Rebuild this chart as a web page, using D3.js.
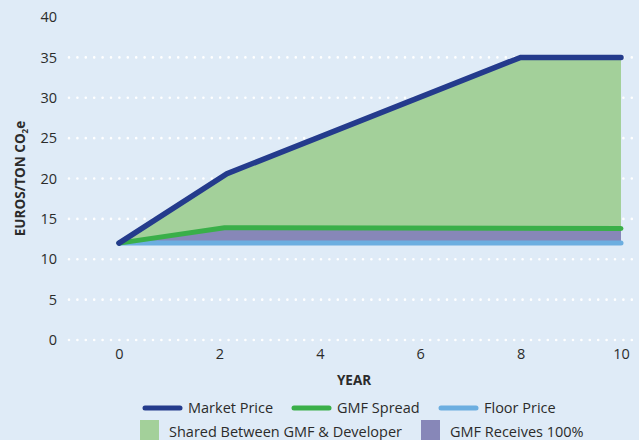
<!DOCTYPE html>
<html><head><meta charset="utf-8">
<script src="https://cdn.jsdelivr.net/npm/d3@7"></script>
<style>
html,body{margin:0;padding:0;background:#dfebf7;}
svg{display:block;font-family:"Open Sans","Noto Sans",sans-serif;}
</style></head>
<body><svg id="c" width="639" height="440"></svg>
<script>
const years = [0, 2.15, 8, 10];
const marketPrice = [12, 20.6, 35, 35];
const spreadYears = [0, 2.1, 10];
const gmfSpread = [12, 13.9, 13.8];
const floorYears = [0, 10];
const floorPrice = [12, 12];
const yTicks = [0, 5, 10, 15, 20, 25, 30, 35, 40];
const gridTicks = [0, 5, 10, 15, 20, 25, 30, 35];
const xTicks = [0, 2, 4, 6, 8, 10];
const lineLegend = ["Market Price", "GMF Spread", "Floor Price"];
const areaLegend = ["Shared Between GMF & Developer", "GMF Receives 100%"];

const C = {bg:"#dfebf7", market:"#243b8c", spread:"#3aaf49", floor:"#6caee0", shared:"#a3d09a", gmf:"#8787b8", text:"#2b2b2b"};

const svg = d3.select("#c");
const x = d3.scaleLinear().domain([0,10]).range([119,621]);
const y = d3.scaleLinear().domain([0,40]).range([340,17]);

// grid
svg.append("g").selectAll("line").data(gridTicks).join("line")
  .attr("x1",69).attr("x2",639).attr("y1",d=>y(d)).attr("y2",d=>y(d))
  .attr("stroke","#fff").attr("stroke-width",2.6).attr("stroke-linecap","round")
  .attr("stroke-dasharray","0 8.4");

// y axis labels
const ya = svg.append("g").attr("transform","translate(57,0)")
  .call(d3.axisLeft(y).tickValues(yTicks).tickSize(0).tickPadding(0));
ya.select(".domain").remove();
ya.selectAll("text").attr("font-size",14.5).attr("fill",C.text).attr("font-family","'Open Sans',sans-serif");

const xa = svg.append("g").attr("transform","translate(0,349)")
  .call(d3.axisBottom(x).tickValues(xTicks).tickSize(0).tickPadding(0));
xa.select(".domain").remove();
xa.selectAll("text").attr("font-size",14.5).attr("fill",C.text).attr("font-family","'Open Sans',sans-serif");

// interpolation helper using the data arrays
const mk = d3.scaleLinear().domain(years).range(marketPrice);
const sp = d3.scaleLinear().domain(spreadYears).range(gmfSpread);
const fl = d3.scaleLinear().domain(floorYears).range(floorPrice);
const allX = Array.from(new Set([...years, ...spreadYears, ...floorYears])).sort((a,b)=>a-b);

// areas
svg.append("path").datum(allX)
  .attr("d", d3.area().x(d=>x(d)).y0(d=>y(sp(d))).y1(d=>y(mk(d))))
  .attr("fill",C.shared);
svg.append("path").datum(allX)
  .attr("d", d3.area().x(d=>x(d)).y0(d=>y(fl(d))).y1(d=>y(sp(d))))
  .attr("fill",C.gmf);

const line = d3.line().x(d=>x(d[0])).y(d=>y(d[1]));
function drawLine(xs, vs, color, w){
  svg.append("path").datum(xs.map((d,i)=>[d,vs[i]]))
    .attr("d",line).attr("fill","none").attr("stroke",color)
    .attr("stroke-width",w).attr("stroke-linecap","round").attr("stroke-linejoin","miter");
}
drawLine(floorYears, floorPrice, C.floor, 5);
drawLine(spreadYears, gmfSpread, C.spread, 5);
drawLine(years, marketPrice, C.market, 5.5);

// axis titles
svg.append("text").attr("transform","translate(25,178.5) rotate(-90)")
  .attr("text-anchor","middle").attr("font-weight","bold").attr("font-size",13.5).attr("fill",C.text)
  .attr("font-family","'Open Sans',sans-serif")
  .html('EUROS/TON CO<tspan font-size="8" dy="3">2</tspan><tspan dy="-3">e</tspan>');
svg.append("text").attr("x",354).attr("y",385).attr("text-anchor","middle")
  .attr("font-weight","bold").attr("font-size",13.5).attr("fill",C.text)
  .attr("font-family","'Open Sans',sans-serif").text("YEAR");

// legend
const lineCols = [C.market, C.spread, C.floor];
const lineX = [145, 294, 441];
lineLegend.forEach((t,i)=>{
  svg.append("line").attr("x1",lineX[i]).attr("x2",lineX[i]+35).attr("y1",408).attr("y2",408)
    .attr("stroke",lineCols[i]).attr("stroke-width",5).attr("stroke-linecap","round");
  svg.append("text").attr("x",lineX[i]+43).attr("y",413).attr("font-size",14.5).attr("fill",C.text).text(t);
});
const areaCols = [C.shared, C.gmf];
const areaX = [140, 421];
areaLegend.forEach((t,i)=>{
  svg.append("rect").attr("x",areaX[i]).attr("y",420).attr("width",19).attr("height",20).attr("fill",areaCols[i]);
  svg.append("text").attr("x",areaX[i]+29).attr("y",437).attr("font-size",14.5).attr("fill",C.text).text(t);
});
</script></body></html>
